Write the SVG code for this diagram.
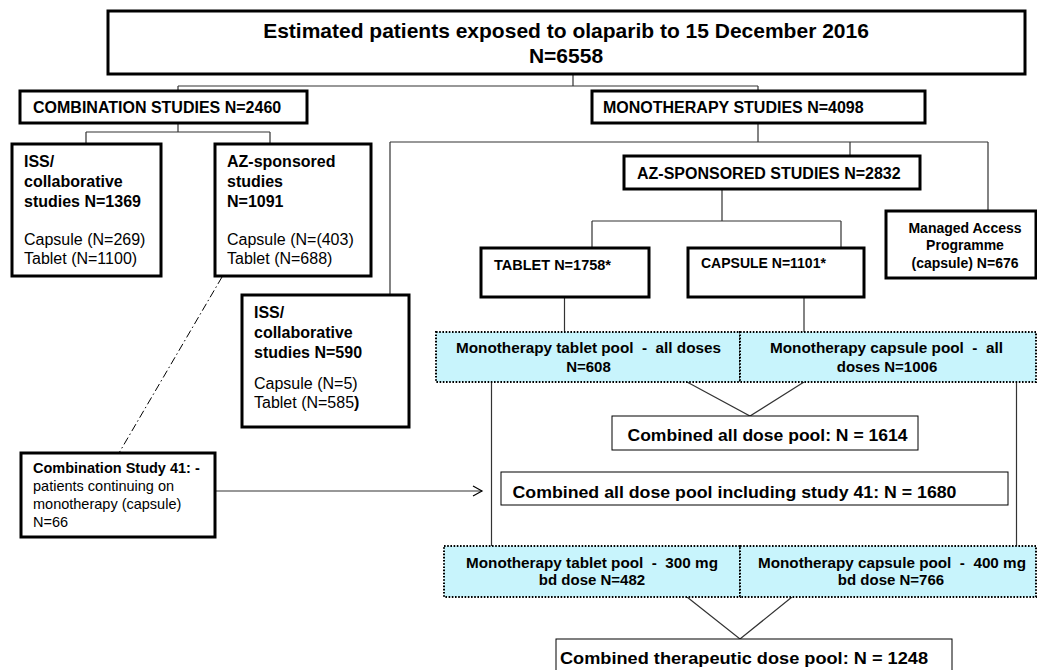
<svg xmlns="http://www.w3.org/2000/svg" width="1037" height="670" viewBox="0 0 1037 670">
  <style>
    .box { fill: #ffffff; stroke: #000000; stroke-width: 3; }
    .thin { fill: #ffffff; stroke: #000000; stroke-width: 1; }
    .pool { fill: #c8f4fc; stroke: #000000; stroke-width: 2; stroke-dasharray: 1.6 1.6; }
    .link { fill: none; stroke: #333333; stroke-width: 1.2; }
    .dashdot { fill: none; stroke: #000000; stroke-width: 1; stroke-dasharray: 8 3 1.5 3; }
    text { font-family: "Liberation Sans", Arial, sans-serif; fill: #000000; }
    .b { font-weight: bold; }
    .t21 { font-size: 21px; }
    .t16 { font-size: 16px; }
    .t14 { font-size: 14px; }
    .t145 { font-size: 14.5px; }
    .pt { font-size: 15px; font-weight: bold; white-space: pre; }
    .ct { font-size: 17px; font-weight: bold; }
    .mid { text-anchor: middle; }
  </style>
  <defs>
    <marker id="open" markerWidth="12" markerHeight="12" refX="10" refY="6" orient="auto" markerUnits="userSpaceOnUse">
      <path d="M1,1 L10,6 L1,11" fill="none" stroke="#000000" stroke-width="1.2"/>
    </marker>
  </defs>

  <!-- connectors -->
  <g id="connectors">
    <path class="link" d="M573,74 V86 M178,86 H758 M178,86 V91 M758,86 V91"/>
    <path class="link" d="M178,123 V132 M86,132 H270 M86,132 V144 M270,132 V144"/>
    <path class="link" d="M758,123 V142 M390,142 H988 M390,142 V295 M850,142 V156 M988,142 V211"/>
    <path class="link" d="M722,189 V221 M592,221 H841 M592,221 V248 M841,221 V248"/>
    <path class="link" d="M564.5,297 V332 M804,297 V332"/>
    <path class="link" d="M687,382 L750,416 L804,382"/>
    <path class="link" d="M491.5,382 V546 M1016.5,382 V546"/>
    <path class="link" d="M687,597 L740,639 L792,597"/>
    <path class="dashdot" d="M222,277 L119,453"/>
    <path class="link" d="M215,491 H482" stroke="#000000" marker-end="url(#open)"/>
  </g>

  <!-- title -->
  <g id="title">
    <rect class="box" x="108" y="11" width="917" height="63"/>
    <text class="b t21 mid" x="566" y="38">Estimated patients exposed to olaparib to 15 December 2016</text>
    <text class="b t21 mid" x="566" y="63">N=6558</text>
  </g>

  <g id="combination">
    <rect class="box" x="20" y="91" width="287" height="32"/>
    <text class="b t16" x="33" y="113">COMBINATION STUDIES N=2460</text>
  </g>

  <g id="monotherapy">
    <rect class="box" x="592" y="91" width="333" height="32"/>
    <text class="b t16" x="603" y="113">MONOTHERAPY STUDIES N=4098</text>
  </g>

  <g id="iss-combination">
    <rect class="box" x="12" y="144" width="149" height="132"/>
    <text class="b t16" x="24" y="167">ISS/</text>
    <text class="b t16" x="24" y="187">collaborative</text>
    <text class="b t16" x="24" y="207">studies N=1369</text>
    <text class="t16" x="24" y="245">Capsule (N=269)</text>
    <text class="t16" x="24" y="263.5">Tablet (N=1100)</text>
  </g>

  <g id="az-combination">
    <rect class="box" x="215" y="144" width="156" height="132"/>
    <text class="b t16" x="227" y="167">AZ-sponsored</text>
    <text class="b t16" x="227" y="187">studies</text>
    <text class="b t16" x="227" y="207">N=1091</text>
    <text class="t16" x="227" y="245">Capsule (N=(403)</text>
    <text class="t16" x="227" y="263.5">Tablet (N=688)</text>
  </g>

  <g id="az-sponsored">
    <rect class="box" x="624" y="156" width="296" height="33"/>
    <text class="b t16" x="637" y="178.5">AZ-SPONSORED STUDIES N=2832</text>
  </g>

  <g id="managed-access">
    <rect class="box" x="886" y="211" width="150" height="67"/>
    <text class="b t14 mid" x="965" y="233">Managed Access</text>
    <text class="b t14 mid" x="965" y="250">Programme</text>
    <text class="b t14 mid" x="965" y="268">(capsule) N=676</text>
  </g>

  <g id="tablet">
    <rect class="box" x="481" y="248" width="168" height="49"/>
    <text class="b t145" x="494" y="270">TABLET N=1758*</text>
  </g>

  <g id="capsule">
    <rect class="box" x="688" y="248" width="176" height="49"/>
    <text class="b t14" x="701" y="268">CAPSULE N=1101*</text>
  </g>

  <g id="iss-monotherapy">
    <rect class="box" x="242" y="295" width="167" height="132"/>
    <text class="b t16" x="254" y="318">ISS/</text>
    <text class="b t16" x="254" y="338">collaborative</text>
    <text class="b t16" x="254" y="358">studies N=590</text>
    <text class="t16" x="254" y="389">Capsule (N=5)</text>
    <text class="t16" x="254" y="407.5">Tablet (N=585<tspan class="b">)</tspan></text>
  </g>

  <g id="study-41">
    <rect class="box" x="21" y="453" width="194" height="84"/>
    <text class="b t145" x="33" y="473">Combination Study 41: -</text>
    <text class="t145" x="33" y="491">patients continuing on</text>
    <text class="t145" x="33" y="509">monotherapy (capsule)</text>
    <text class="t145" x="33" y="527">N=66</text>
  </g>

  <g id="tablet-pool-all">
    <rect class="pool" x="436" y="332" width="304" height="50"/>
    <text class="pt mid" x="588.5" y="353" textLength="265" lengthAdjust="spacingAndGlyphs">Monotherapy tablet pool  -  all doses</text>
    <text class="pt mid" x="588.5" y="372">N=608</text>
  </g>

  <g id="capsule-pool-all">
    <rect class="pool" x="740" y="332" width="296" height="50"/>
    <text class="pt mid" x="886.5" y="353" textLength="233" lengthAdjust="spacingAndGlyphs">Monotherapy capsule pool  -  all</text>
    <text class="pt mid" x="887" y="372">doses N=1006</text>
  </g>

  <g id="combined-all">
    <rect class="thin" x="612" y="416" width="306" height="34"/>
    <text class="ct" x="627.5" y="441" textLength="280" lengthAdjust="spacingAndGlyphs">Combined all dose pool: N = 1614</text>
  </g>

  <g id="combined-41">
    <rect class="thin" x="501" y="472" width="507" height="33"/>
    <text class="ct" x="512.5" y="497.5" textLength="444" lengthAdjust="spacingAndGlyphs">Combined all dose pool including study 41: N = 1680</text>
  </g>

  <g id="tablet-pool-300">
    <rect class="pool" x="444" y="546" width="296" height="51"/>
    <text class="pt mid" x="592" y="568" textLength="252" lengthAdjust="spacingAndGlyphs">Monotherapy tablet pool  -  300 mg</text>
    <text class="pt mid" x="592" y="585">bd dose N=482</text>
  </g>

  <g id="capsule-pool-400">
    <rect class="pool" x="740" y="546" width="296" height="51"/>
    <text class="pt mid" x="892" y="568" textLength="268" lengthAdjust="spacingAndGlyphs">Monotherapy capsule pool  -  400 mg</text>
    <text class="pt mid" x="891" y="585">bd dose N=766</text>
  </g>

  <g id="combined-therapeutic">
    <rect class="thin" x="556" y="639" width="396" height="40"/>
    <text class="ct" x="560" y="664" textLength="368" lengthAdjust="spacingAndGlyphs">Combined therapeutic dose pool: N = 1248</text>
  </g>
</svg>
